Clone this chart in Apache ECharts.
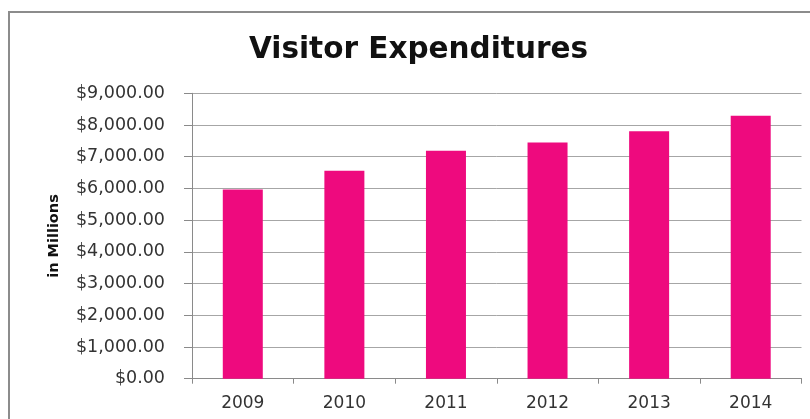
<!DOCTYPE html>
<html>
<head>
<meta charset="utf-8">
<title>Visitor Expenditures</title>
<script src="https://cdn.jsdelivr.net/npm/echarts@6/dist/echarts.min.js"></script>
<style>
  html, body { margin: 0; padding: 0; background: #ffffff; }
  #chart { width: 810px; height: 419px; }
</style>
</head>
<body>
<div id="chart"></div>
<script>
// Visitor spending per year, in millions of dollars
const years = ['2009', '2010', '2011', '2012', '2013', '2014'];
const expenditures = [5970, 6560, 7190, 7450, 7800, 8290];
const yTicks = { min: 0, max: 9000, step: 1000 };

const chart = echarts.init(document.getElementById('chart'), null, { renderer: 'canvas' });

const money = v => '$' + v.toLocaleString('en-US', { minimumFractionDigits: 2, maximumFractionDigits: 2 });

chart.setOption({
  animation: false,
  backgroundColor: '#ffffff',
  title: {
    text: 'Visitor Expenditures',
    left: 244,
    top: 30,
    textStyle: {
      fontFamily: 'DejaVu Sans',
      fontWeight: 'bold',
      fontSize: 29.5,
      color: '#111111'
    }
  },
  graphic: [{
    type: 'rect',
    silent: true,
    shape: { x: 9, y: 12, width: 830, height: 440 },
    style: { fill: 'none', stroke: '#8c8c8c', lineWidth: 2 }
  }],
  grid: { left: 192, right: 8.5, top: 93.3, bottom: 40.3 },
  xAxis: {
    type: 'category',
    data: years,
    axisLine: { lineStyle: { color: '#8a8a8a', width: 1 } },
    axisTick: { show: true, length: 5, lineStyle: { color: '#8a8a8a' } },
    axisLabel: {
      margin: 16,
      fontFamily: 'DejaVu Sans',
      fontSize: 17,
      color: '#333333'
    }
  },
  yAxis: {
    type: 'value',
    min: yTicks.min,
    max: yTicks.max,
    interval: yTicks.step,
    name: 'in Millions',
    nameLocation: 'middle',
    nameRotate: 90,
    nameGap: 130,
    nameTextStyle: {
      fontFamily: 'DejaVu Sans',
      fontWeight: 'bold',
      fontSize: 14.5,
      color: '#111111'
    },
    axisLine: { show: true, lineStyle: { color: '#8a8a8a', width: 1 } },
    axisTick: { show: true, length: 8, lineStyle: { color: '#8a8a8a' } },
    splitLine: { show: true, lineStyle: { color: '#a6a6a6', width: 1 } },
    axisLabel: {
      margin: 27,
      formatter: money,
      fontFamily: 'DejaVu Sans',
      fontSize: 17.5,
      color: '#333333'
    }
  },
  series: [{
    type: 'bar',
    data: expenditures,
    barWidth: 40,
    itemStyle: { color: '#ee0a7e' }
  }]
});
</script>
</body>
</html>
